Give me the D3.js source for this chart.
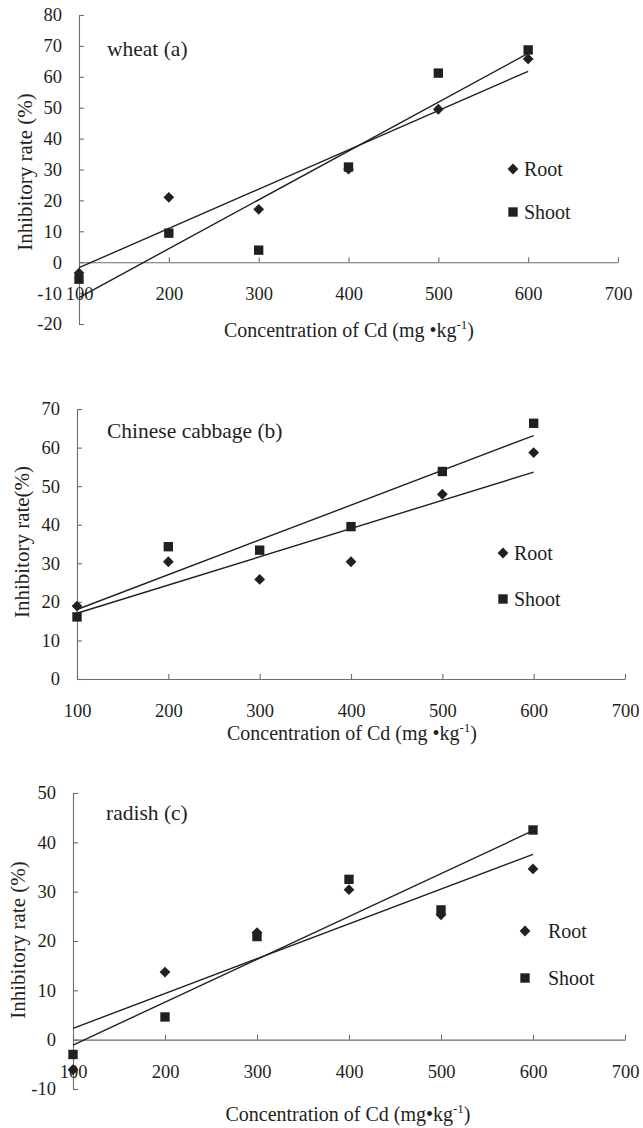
<!DOCTYPE html>
<html>
<head>
<meta charset="utf-8">
<script src="https://cdn.jsdelivr.net/npm/d3@7"></script>
<style>
  body { margin: 0; background: #fff; }
  text { font-family: "Liberation Serif", "Times New Roman", serif; fill: #231f20; }
</style>
</head>
<body>
<div class="chart"></div>
<script>
// concentrations of Cd (mg/kg)
var concentration = [100, 200, 300, 400, 500, 600];
var xTicks = [100, 200, 300, 400, 500, 600, 700];

// inhibitory rates (%)
var wheatRoot = [-3.5, 21.0, 17.1, 30.1, 49.5, 65.8];
var wheatShoot = [-5.5, 9.4, 3.9, 30.8, 61.2, 68.7];
var cabbageRoot = [18.9, 30.4, 25.8, 30.4, 47.9, 58.7];
var cabbageShoot = [16.1, 34.3, 33.4, 39.5, 53.8, 66.3];
var radishRoot = [-6.1, 13.7, 21.7, 30.4, 25.3, 34.6];
var radishShoot = [-3.0, 4.6, 20.9, 32.5, 26.3, 42.5];

var wheatTicks = [-20, -10, 0, 10, 20, 30, 40, 50, 60, 70, 80];
var cabbageTicks = [0, 10, 20, 30, 40, 50, 60, 70];
var radishTicks = [-10, 0, 10, 20, 30, 40, 50];

var seriesNames = ["Root", "Shoot"];

var svgWidth = 643;
var svgHeight = 1128;
var ink = "#231f20";

var svg = d3.select(".chart")
  .append("svg")
  .attr("width", svgWidth)
  .attr("height", svgHeight);

// layout of each panel (pixels)
var panels = [
  { title: "wheat (a)", root: wheatRoot, shoot: wheatShoot, yTicks: wheatTicks,
    left: 79, right: 618, top: 15, bottom: 324, titleX: 107, titleY: 56,
    yLabel: "Inhibitory rate (%)", yLabelX: 25, yLabelY: 172,
    xLabelX: 349, xLabelY: 337, unitSep: " ",
    legendX: 513, legendTextX: 524, legendY: [169, 212] },
  { title: "Chinese cabbage (b)", root: cabbageRoot, shoot: cabbageShoot, yTicks: cabbageTicks,
    left: 77, right: 625, top: 409, bottom: 679, titleX: 107, titleY: 438,
    yLabel: "Inhibitory rate(%)", yLabelX: 22, yLabelY: 542,
    xLabelX: 352, xLabelY: 740, unitSep: " ",
    legendX: 503, legendTextX: 514, legendY: [553, 599] },
  { title: "radish (c)", root: radishRoot, shoot: radishShoot, yTicks: radishTicks,
    left: 73, right: 625, top: 793, bottom: 1089, titleX: 106, titleY: 820,
    yLabel: "Inhibitory rate (%)", yLabelX: 18, yLabelY: 940,
    xLabelX: 348, xLabelY: 1121, unitSep: "",
    legendX: 525, legendTextX: 548, legendY: [931, 978] }
];

// least squares fit of y on x
function fitLine(xs, ys) {
  var mx = d3.mean(xs), my = d3.mean(ys);
  var sxy = d3.sum(xs, (x, i) => (x - mx) * (ys[i] - my));
  var sxx = d3.sum(xs, x => (x - mx) * (x - mx));
  var slope = sxy / sxx;
  return x => my + slope * (x - mx);
}

var diamond = d3.symbol().type(d3.symbolSquare).size(58);
var square = d3.symbol().type(d3.symbolSquare).size(88);

function markerPath(g, name, x, y) {
  if (name === "Root") {
    g.append("path").attr("d", diamond())
      .attr("transform", `translate(${x},${y}) rotate(45)`)
      .attr("fill", ink);
  } else {
    g.append("path").attr("d", square())
      .attr("transform", `translate(${x},${y})`)
      .attr("fill", ink);
  }
}

panels.forEach(function(p) {
  var g = svg.append("g");

  var xScale = d3.scaleLinear()
    .domain([d3.min(xTicks), d3.max(xTicks)])
    .range([p.left, p.right]);

  var yScale = d3.scaleLinear()
    .domain([d3.min(p.yTicks), d3.max(p.yTicks)])
    .range([p.bottom, p.top]);

  // y axis, ticks pointing inward
  var leftAxis = d3.axisLeft(yScale)
    .tickValues(p.yTicks)
    .tickSizeInner(-5)
    .tickSizeOuter(0)
    .tickPadding(17)
    .tickFormat(d => String(d));

  var yAxis = g.append("g")
    .attr("transform", `translate(${p.left},0)`)
    .call(leftAxis);

  // x axis sits on y = 0
  var bottomAxis = d3.axisBottom(xScale)
    .tickValues(xTicks)
    .tickSizeInner(-5)
    .tickSizeOuter(0)
    .tickFormat(d => String(d));

  var xAxis = g.append("g")
    .attr("transform", `translate(0,${yScale(0)})`)
    .call(bottomAxis);

  [xAxis, yAxis].forEach(function(ax) {
    ax.selectAll("path, line").attr("stroke", "#6d6d6d").attr("stroke-width", 1.1);
    ax.selectAll("text")
      .attr("fill", ink)
      .style("font-family", '"Liberation Serif", serif')
      .style("font-size", "18.5px");
  });
  xAxis.selectAll("text").attr("y", 38).attr("dy", null);

  // trend lines
  [p.root, p.shoot].forEach(function(vals) {
    var f = fitLine(concentration, vals);
    var x0 = d3.min(concentration), x1 = d3.max(concentration);
    g.append("line")
      .attr("x1", xScale(x0)).attr("y1", yScale(f(x0)))
      .attr("x2", xScale(x1)).attr("y2", yScale(f(x1)))
      .attr("stroke", ink)
      .attr("stroke-width", 1.4);
  });

  // points
  concentration.forEach(function(c, i) {
    markerPath(g, "Shoot", xScale(c), yScale(p.shoot[i]));
    markerPath(g, "Root", xScale(c), yScale(p.root[i]));
  });

  // title
  g.append("text")
    .attr("x", p.titleX)
    .attr("y", p.titleY)
    .style("font-size", "21.5px")
    .text(p.title);

  // legend
  seriesNames.forEach(function(name, i) {
    markerPath(g, name, p.legendX, p.legendY[i]);
    g.append("text")
      .attr("x", p.legendTextX)
      .attr("y", p.legendY[i])
      .attr("dy", "0.33em")
      .style("font-size", "20px")
      .text(name);
  });

  // y axis label
  g.append("text")
    .attr("transform", `translate(${p.yLabelX},${p.yLabelY}) rotate(-90)`)
    .attr("text-anchor", "middle")
    .attr("dy", "0.33em")
    .style("font-size", "21px")
    .text(p.yLabel);

  // x axis label
  var xl = g.append("text")
    .attr("x", p.xLabelX)
    .attr("y", p.xLabelY)
    .attr("text-anchor", "middle")
    .style("font-size", "20px");
  xl.append("tspan").text("Concentration of Cd (mg" + p.unitSep + "\u2022kg");
  xl.append("tspan").attr("dy", -8).style("font-size", "13px").text("-1");
  xl.append("tspan").attr("dy", 8).text(")");
});
</script>
</body>
</html>
